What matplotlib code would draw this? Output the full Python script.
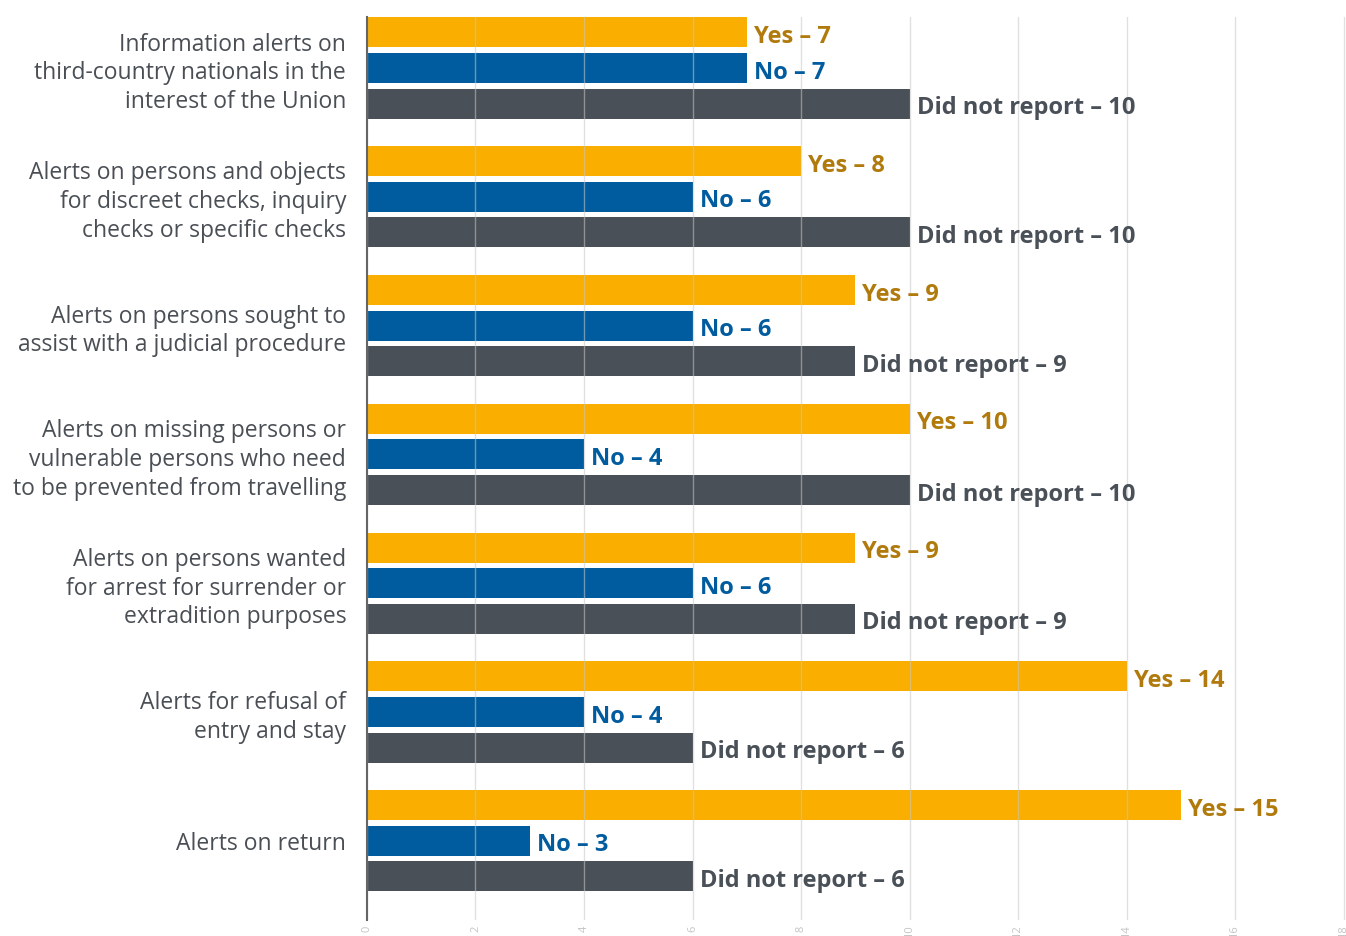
import matplotlib
matplotlib.use("Agg")
import matplotlib.pyplot as plt
import numpy as np

plt.rcParams['font.family'] = ['Open Sans', 'DejaVu Sans']

categories = [
    "Information alerts on\nthird-country nationals in the\ninterest of the Union",
    "Alerts on persons and objects\nfor discreet checks, inquiry\nchecks or specific checks",
    "Alerts on persons sought to\nassist with a judicial procedure",
    "Alerts on missing persons or\nvulnerable persons who need\nto be prevented from travelling",
    "Alerts on persons wanted\nfor arrest for surrender or\nextradition purposes",
    "Alerts for refusal of\nentry and stay",
    "Alerts on return",
]
yes_vals = [7, 8, 9, 10, 9, 14, 15]
no_vals = [7, 6, 6, 4, 6, 4, 3]
dnr_vals = [10, 10, 9, 10, 9, 6, 6]
x_ticks = [0, 2, 4, 6, 8, 10, 12, 14, 16, 18]

series = [
    ("Yes", yes_vals, "#f9ae00", "#b07a0c"),
    ("No", no_vals, "#005c9e", "#005c9e"),
    ("Did not report", dnr_vals, "#4a5058", "#4a5058"),
]

W, H = 1346, 936
fig = plt.figure(figsize=(W / 100, H / 100), dpi=100)
ax = fig.add_axes([367 / W, 16 / H, (W - 367) / W, (920 - 17) / H])

y = np.arange(len(categories))
offsets = [-0.2764, 0.0, 0.2764]
bar_h = 0.233

# bars + value labels
for (name, vals, col, tcol), off in zip(series, offsets):
    ax.barh(y + off, vals, height=bar_h, color=col, zorder=2)
    for yi, v in zip(y, vals):
        ax.text(v + 0.13, yi + off + 0.035, f"{name} – {v}", color=tcol,
                fontsize=17, fontweight='bold', va='center', ha='left', zorder=3)

ax.set_xlim(0, (W - 367) / 54.25)
ax.set_ylim((920 - 68) / 128.8, -51 / 128.8)

ax.set_yticks(y)
ax.set_yticklabels(categories, fontsize=16.5, color="#4a4f55", ha='right',
                   linespacing=1.27)
for lab in ax.get_yticklabels():
    lab.set_multialignment('right')
ax.tick_params(axis='y', length=0, pad=15)

ax.set_xticks(x_ticks)
ax.set_xticklabels([str(t) for t in x_ticks], rotation=90, fontsize=8,
                   color="#c4c4c4", va='top')
ax.tick_params(axis='x', length=0, pad=4)

# grid sits on top of the bars
ax.grid(axis='x', color="#c8c8c8", alpha=0.55, linewidth=1.0, zorder=4)
ax.set_axisbelow(False)
for side in ['top', 'right', 'bottom']:
    ax.spines[side].set_visible(False)
ax.spines['left'].set_color("#666666")
ax.spines['left'].set_linewidth(1.5)
ax.spines['left'].set_zorder(5)

fig.savefig("out.png", dpi=100)
